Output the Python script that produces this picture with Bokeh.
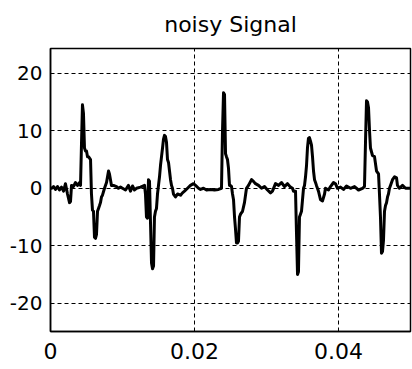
from bokeh.plotting import figure
from bokeh.models import FixedTicker, ColumnDataSource
from bokeh.embed import file_html
from bokeh.resources import INLINE

# ---- data (time in ms, signal amplitude) ----
time_ms = [
    0.00, 0.14, 0.42, 0.69, 0.97, 1.25, 1.53, 1.81, 2.08, 2.36, 2.64, 2.78, 2.92, 3.19, 3.47, 3.75,
    4.03, 4.17, 4.31, 4.44, 4.58, 4.72, 4.86, 5.00, 5.14, 5.28, 5.56, 5.69, 5.83, 5.97, 6.11, 6.25,
    6.39, 6.53, 6.67, 6.81, 6.94, 7.08, 7.22, 7.50, 7.78, 8.06, 8.19, 8.33, 8.47, 8.75, 9.17, 9.44,
    9.72, 10.00, 10.42, 10.83, 11.11, 11.39, 11.67, 11.94, 12.50, 13.06, 13.19, 13.33, 13.47, 13.61,
    13.75, 13.89, 14.03, 14.17, 14.31, 14.44, 14.58, 14.72, 14.86, 15.00, 15.14, 15.28, 15.42, 15.56,
    15.69, 15.83, 15.97, 16.11, 16.25, 16.39, 16.53, 16.67, 16.81, 16.94, 17.08, 17.36, 17.64, 18.06,
    18.33, 18.61, 19.03, 19.44, 19.86, 20.14, 20.56, 20.83, 21.25, 21.67, 22.22, 22.78, 23.33, 23.75,
    23.89, 24.03, 24.17, 24.31, 24.44, 24.58, 24.72, 24.86, 25.00, 25.14, 25.28, 25.42, 25.56, 25.69,
    25.83, 25.97, 26.11, 26.25, 26.39, 26.67, 26.94, 27.22, 27.50, 27.92, 28.19, 28.47, 28.89, 29.31,
    29.72, 30.14, 30.56, 30.83, 31.25, 31.67, 32.08, 32.50, 32.92, 33.33, 33.61, 33.75, 34.03, 34.17,
    34.31, 34.44, 34.58, 34.72, 34.86, 35.00, 35.14, 35.28, 35.42, 35.56, 35.69, 35.83, 35.97, 36.11,
    36.25, 36.39, 36.53, 36.67, 36.81, 36.94, 37.22, 37.50, 37.78, 38.06, 38.19, 38.61, 38.89, 39.31,
    39.58, 39.86, 40.28, 40.69, 41.11, 41.67, 42.22, 42.78, 43.33, 43.61, 43.75, 43.89, 44.03, 44.17,
    44.31, 44.44, 44.72, 45.00, 45.28, 45.56, 45.69, 45.83, 45.97, 46.11, 46.25, 46.39, 46.53, 46.67,
    46.81, 46.94, 47.08, 47.22, 47.50, 47.78, 48.06, 48.19, 48.47, 48.89, 49.31, 49.86, 50.00,
]
signal = [
    0.0, 0.0, 0.3, -0.2, 0.3, -0.3, 0.2, -0.5, 0.8, -1.0, -2.5, -2.3, 0.5, 0.3, 1.0, 0.5,
    1.0, 0.5, 8.0, 14.5, 13.0, 7.0, 6.5, 6.5, 5.5, 5.5, 5.0, -1.0, -3.8, -4.0, -8.5, -8.7,
    -8.0, -4.0, -3.5, -3.0, -2.5, -1.5, -1.2, 0.0, 1.0, 3.0, 2.5, 1.5, 0.5, 0.5, 0.3, 0.0,
    0.2, 0.0, -0.3, 0.5, -0.5, 0.4, -0.3, 0.0, 0.2, 0.5, -1.0, -5.0, -5.2, 1.5,
    1.2, -6.0, -13.0, -14.0, -13.5, -5.0, -4.0, -3.5, -1.0, 0.5, 2.0, 4.0, 5.5, 7.0,
    8.5, 9.2, 9.0, 8.0, 5.0, 4.5, 3.0, 1.5, 0.5, 0.0, -1.0, -1.5, -1.0, -1.2,
    -0.8, -0.5, 0.0, 0.5, 0.8, 0.5, 0.0, -0.2, 0.0, -0.3, -0.2, -0.3, -0.2, 0.0,
    10.0, 16.6, 16.3, 6.0, 5.5, 5.0, 3.5, 0.5, 0.5, 0.3, -1.0, -2.0, -5.0, -7.0,
    -9.5, -9.5, -9.2, -5.0, -4.5, -4.0, -2.5, 0.0, 0.5, 1.5, 1.2, 0.8, 0.5, 0.0,
    0.3, -0.3, -0.8, -0.5, 0.8, 0.5, 1.0, 0.3, 0.8, 0.2, 0.0, -0.5, -0.5, -8.0,
    -15.0, -14.5, -5.0, -4.5, -4.0, -2.0, 0.0, 0.5, 2.0, 4.0, 7.0, 8.7, 8.8, 8.2,
    7.5, 5.5, 3.0, 1.5, 1.0, 0.5, -0.5, -2.0, -2.2, -1.0, 0.0, -0.3, 0.3, 1.0,
    0.8, 0.0, 0.2, -0.2, 0.4, 0.0, 0.3, -0.3, 0.0, 0.3, 8.0, 15.2, 15.0, 14.0,
    10.0, 7.0, 5.7, 5.5, 3.0, 2.5, -1.0, -5.0, -11.3, -11.0, -9.0, -4.0, -3.0, -2.5,
    -1.5, -1.0, 0.0, 0.5, 1.5, 2.0, 1.8, 0.5, 0.0, 0.5, 0.0, 0.0, 0.0,
]
x_ticks = [0, 0.02, 0.04]
x_tick_labels = ["0", "0.02", "0.04"]
y_ticks = [-20, -10, 0, 10, 20]
y_tick_labels = ["-20", "-10", "0", "10", "20"]
title_text = "noisy Signal"

src = ColumnDataSource(data=dict(t=[v / 1000.0 for v in time_ms], y=signal))

p = figure(width=412, height=369, output_backend="svg", toolbar_location=None,
           x_range=(0, 0.05), y_range=(-24.9, 24.3), title=title_text,
           min_border_left=50, min_border_right=2, min_border_top=48, min_border_bottom=38)
p.background_fill_color = "white"
p.border_fill_color = "white"
p.outline_line_color = "black"
p.outline_line_width = 1.5

p.title.align = "center"
p.title.vertical_align = "top"
p.title.text_font = "DejaVu Sans"
p.title.text_font_size = "22px"
p.title.text_font_style = "normal"
p.title.text_color = "black"
p.title.standoff = 20

p.line("t", "y", source=src, line_color="black", line_width=3, line_join="round")

p.xaxis.ticker = FixedTicker(ticks=x_ticks)
p.yaxis.ticker = FixedTicker(ticks=y_ticks)
p.xaxis.major_label_overrides = {t: lab for t, lab in zip(x_ticks, x_tick_labels)}
p.yaxis.major_label_overrides = {t: lab for t, lab in zip(y_ticks, y_tick_labels)}
for ax in (p.xaxis, p.yaxis):
    ax.axis_line_color = "black"
    ax.axis_line_width = 1.5
    ax.major_tick_in = 0
    ax.major_tick_out = 0
    ax.minor_tick_in = 0
    ax.minor_tick_out = 0
    ax.major_label_text_font = "DejaVu Sans"
    ax.major_label_text_color = "black"
p.yaxis.major_label_text_font_size = "20px"
p.yaxis.major_label_standoff = 8
p.xaxis.major_label_text_font_size = "22px"
p.xaxis.major_label_standoff = 11

for g in (p.xgrid, p.ygrid):
    g.grid_line_color = "black"
    g.grid_line_dash = "4 3"
    g.grid_line_width = 1
    g.grid_line_alpha = 1.0
p.xgrid.ticker = FixedTicker(ticks=[0.02, 0.04])
p.ygrid.ticker = FixedTicker(ticks=y_ticks)

open("out.html", "w").write(file_html(p, INLINE))
